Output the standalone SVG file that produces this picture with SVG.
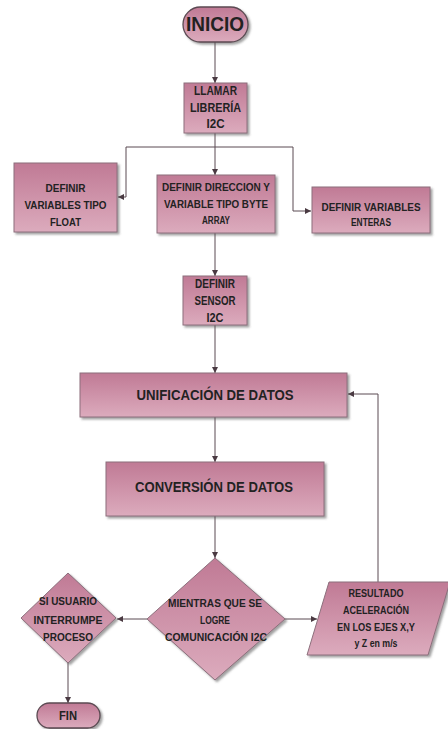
<svg xmlns="http://www.w3.org/2000/svg" width="448" height="729" viewBox="0 0 448 729">
  <defs>
    <linearGradient id="fillGrad" x1="0" y1="0" x2="0" y2="1">
      <stop offset="0" stop-color="#c07a95"/>
      <stop offset="1" stop-color="#dcabbd"/>
    </linearGradient>
    <filter id="shadow" x="-10%" y="-10%" width="130%" height="130%">
      <feDropShadow dx="2" dy="2" stdDeviation="1" flood-color="#555" flood-opacity="0.55"/>
    </filter>
    <marker id="arrow" viewBox="0 0 6 6" refX="6" refY="3" markerWidth="6" markerHeight="6" orient="auto" markerUnits="userSpaceOnUse">
      <path d="M0,0 L6,3 L0,6 z" fill="#4a3a42"/>
    </marker>
  </defs>
  <style>
    .shape { fill: url(#fillGrad); stroke: #8c6f7c; stroke-width: 1; filter: url(#shadow); }
    .pill { fill: url(#fillGrad); stroke: #5b4a52; stroke-width: 1.3; filter: url(#shadow); }
    .t { font-family: "Liberation Sans", Arial, sans-serif; font-weight: bold; fill: #222; text-anchor: middle; }
    .s11 { font-size: 11.5px; }
    .s12 { font-size: 12.5px; }
    .s14 { font-size: 14px; }
    .s21 { font-size: 21px; }
    .conn { fill: none; stroke: #5a4a52; stroke-width: 1; }
  </style>

  <!-- connectors -->
  <g id="connectors">
    <path class="conn" d="M215,42 V83" marker-end="url(#arrow)"/>
    <path class="conn" d="M215,133 V175" marker-end="url(#arrow)"/>
    <path class="conn" d="M126,197 V147 H293 V211 H311" marker-end="url(#arrow)"/>
    <path class="conn" d="M126,197 H118" marker-end="url(#arrow)"/>
    <path class="conn" d="M215,233 V276" marker-end="url(#arrow)"/>
    <path class="conn" d="M215,325 V373" marker-end="url(#arrow)"/>
    <path class="conn" d="M215,417 V462" marker-end="url(#arrow)"/>
    <path class="conn" d="M215,516 V558" marker-end="url(#arrow)"/>
    <path class="conn" d="M147,619 H117" marker-end="url(#arrow)"/>
    <path class="conn" d="M285,619 H317" marker-end="url(#arrow)"/>
    <path class="conn" d="M378,582 V394 H348" marker-end="url(#arrow)"/>
    <path class="conn" d="M68,663 V703" marker-end="url(#arrow)"/>
  </g>

  <g id="inicio">
    <rect class="pill" x="183" y="7" width="65" height="35" rx="17.5"/>
    <text class="t s21" x="215" y="30.5" textLength="58" lengthAdjust="spacingAndGlyphs">INICIO</text>
  </g>

  <g id="llamar-libreria">
    <rect class="shape" x="184" y="83" width="63" height="50"/>
    <text class="t s12" x="215.5" y="94.5" textLength="43" lengthAdjust="spacingAndGlyphs">LLAMAR</text>
    <text class="t s12" x="215.5" y="111.5" textLength="51" lengthAdjust="spacingAndGlyphs">LIBRERÍA</text>
    <text class="t s12" x="215.5" y="127.5" textLength="18" lengthAdjust="spacingAndGlyphs">I2C</text>
  </g>

  <g id="variables-float">
    <rect class="shape" x="14" y="163" width="103" height="69"/>
    <text class="t s11" x="65.5" y="192" textLength="40" lengthAdjust="spacingAndGlyphs">DEFINIR</text>
    <text class="t s11" x="65.5" y="209" textLength="82" lengthAdjust="spacingAndGlyphs">VARIABLES TIPO</text>
    <text class="t s11" x="65.5" y="226" textLength="31" lengthAdjust="spacingAndGlyphs">FLOAT</text>
  </g>

  <g id="direccion-byte-array">
    <rect class="shape" x="157" y="175" width="118" height="58"/>
    <text class="t s11" x="216" y="191" textLength="108" lengthAdjust="spacingAndGlyphs">DEFINIR DIRECCION Y</text>
    <text class="t s11" x="216" y="207.5" textLength="104" lengthAdjust="spacingAndGlyphs">VARIABLE TIPO BYTE</text>
    <text class="t s11" x="216" y="224" textLength="28" lengthAdjust="spacingAndGlyphs">ARRAY</text>
  </g>

  <g id="variables-enteras">
    <rect class="shape" x="312" y="187" width="118" height="46"/>
    <text class="t s11" x="371" y="211" textLength="99" lengthAdjust="spacingAndGlyphs">DEFINIR VARIABLES</text>
    <text class="t s11" x="371" y="226" textLength="40" lengthAdjust="spacingAndGlyphs">ENTERAS</text>
  </g>

  <g id="sensor-i2c">
    <rect class="shape" x="183" y="276" width="64" height="49"/>
    <text class="t s12" x="215" y="287.5" textLength="40" lengthAdjust="spacingAndGlyphs">DEFINIR</text>
    <text class="t s12" x="215" y="305" textLength="41" lengthAdjust="spacingAndGlyphs">SENSOR</text>
    <text class="t s12" x="215" y="321.5" textLength="17" lengthAdjust="spacingAndGlyphs">I2C</text>
  </g>

  <g id="unificacion">
    <rect class="shape" x="80" y="373" width="267" height="44"/>
    <text class="t s14" x="215" y="400" textLength="157" lengthAdjust="spacingAndGlyphs">UNIFICACIÓN DE DATOS</text>
  </g>

  <g id="conversion">
    <rect class="shape" x="106" y="462" width="218" height="54"/>
    <text class="t s14" x="214" y="492" textLength="158" lengthAdjust="spacingAndGlyphs">CONVERSIÓN DE DATOS</text>
  </g>

  <g id="mientras-comunicacion">
    <polygon class="shape" points="215,558 285,619 215,680 147,619"/>
    <text class="t s11" x="215" y="607" textLength="94" lengthAdjust="spacingAndGlyphs">MIENTRAS QUE SE</text>
    <text class="t s11" x="215" y="624" textLength="30" lengthAdjust="spacingAndGlyphs">LOGRE</text>
    <text class="t s11" x="216" y="641" textLength="102" lengthAdjust="spacingAndGlyphs">COMUNICACIÓN I2C</text>
  </g>

  <g id="usuario-interrumpe">
    <polygon class="shape" points="68,573 116,618 68,663 21,618"/>
    <text class="t s11" x="68" y="605" textLength="58" lengthAdjust="spacingAndGlyphs">SI USUARIO</text>
    <text class="t s11" x="68" y="624" textLength="69" lengthAdjust="spacingAndGlyphs">INTERRUMPE</text>
    <text class="t s11" x="68" y="641" textLength="50" lengthAdjust="spacingAndGlyphs">PROCESO</text>
  </g>

  <g id="resultado-aceleracion">
    <polygon class="shape" points="329,582 450,582 428,655 307,655"/>
    <text class="t s11" x="376" y="597" textLength="55" lengthAdjust="spacingAndGlyphs">RESULTADO</text>
    <text class="t s11" x="376" y="614" textLength="66" lengthAdjust="spacingAndGlyphs">ACELERACIÓN</text>
    <text class="t s11" x="376" y="631" textLength="78" lengthAdjust="spacingAndGlyphs">EN LOS EJES X,Y</text>
    <text class="t s11" x="376" y="647" textLength="43" lengthAdjust="spacingAndGlyphs">y Z en m/s</text>
  </g>

  <g id="fin">
    <rect class="pill" x="37" y="703" width="63" height="25" rx="12.5"/>
    <text class="t s12" x="68" y="720" textLength="18" lengthAdjust="spacingAndGlyphs">FIN</text>
  </g>
</svg>
